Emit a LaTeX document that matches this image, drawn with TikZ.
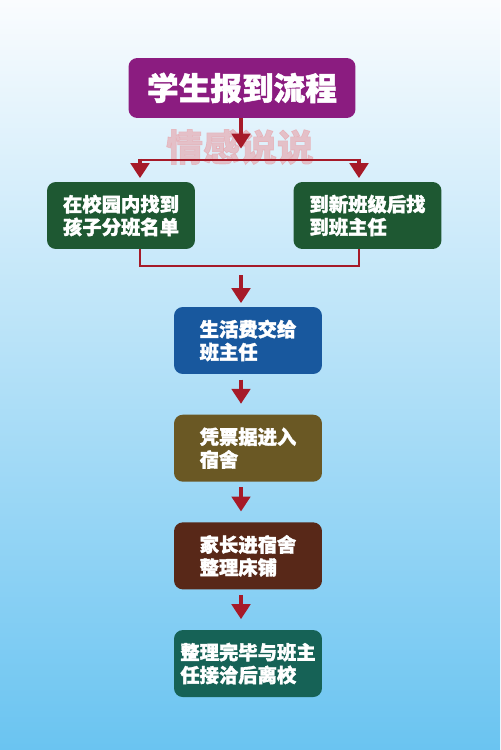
\documentclass[tikz,border=0pt]{standalone}
\usepackage{fontspec}
\newfontfamily\cjkfont{Noto Sans CJK SC}[BoldFeatures={FakeBold=1.6}]
\usetikzlibrary{arrows.meta,positioning}
\usepackage{xcolor}
\definecolor{bgtop}{RGB}{250,252,254}
\definecolor{bgmid}{RGB}{178,222,245}
\definecolor{bgbot}{RGB}{106,196,241}
\definecolor{titlepurple}{RGB}{139,28,128}
\definecolor{boxgreen}{RGB}{30,88,50}
\definecolor{boxblue}{RGB}{24,88,158}
\definecolor{boxolive}{RGB}{106,88,36}
\definecolor{boxbrown}{RGB}{88,40,24}
\definecolor{boxteal}{RGB}{22,98,86}
\definecolor{linered}{RGB}{166,26,40}
\definecolor{markpink}{RGB}{232,160,166}

\begin{document}
\begin{tikzpicture}[
    x=0.02cm, y=-0.02cm,
    node distance=0.8cm,
    stepbox/.style={rectangle, rounded corners=5pt, minimum width=2.96cm, minimum height=1.34cm, inner sep=0pt, align=left, text=white, font=\cjkfont\bfseries\fontsize{11}{13}\selectfont},
    titlebox/.style={stepbox, fill=titlepurple, minimum width=4.54cm, minimum height=1.2cm, font=\cjkfont\bfseries\fontsize{18}{20}\selectfont},
    link/.style={line width=1.4pt, linered},
    arrow/.style={line width=2pt, linered, -{Triangle[width=10.5pt,length=8.5pt]}}
]
    % Background
    \shade[top color=bgtop, middle color=bgmid, bottom color=bgbot] (0,0) rectangle (500,750);
    \useasboundingbox (0,0) rectangle (500,750);
    \node[font=\cjkfont\bfseries\fontsize{21}{21}\selectfont, text=markpink, opacity=0.6] (mark) at (240,147) {情感说说};

    % Nodes
    \node[titlebox] (title) at (242,88) {学生报到流程};
    \node[stepbox, fill=boxgreen] (left) at (121,215.5) {在校园内找到\\孩子分班名单};
    \node[stepbox, fill=boxgreen] (right) at (367.5,215.5) {到新班级后找\\到班主任};
    \node[stepbox, fill=boxblue] (pay) at (248,340.5) {生活费交给\\班主任};
    \node[stepbox, fill=boxolive, below=of pay] (dorm) {凭票据进入\\宿舍};
    \node[stepbox, fill=boxbrown, below=of dorm] (bed) {家长进宿舍\\整理床铺};
    \node[stepbox, fill=boxteal, below=of bed] (leave) {整理完毕与班主\\任接洽后离校};

    % Coordinates
    \coordinate (axis) at (241,0);
    \coordinate (splitL) at (140,160);
    \coordinate (splitR) at (359,160);
    \coordinate (joinL) at (140,266);
    \coordinate (joinR) at (359,266);
    \coordinate (joinM) at (241,275);

    % Arrows
    \draw[arrow, shorten >=6.5pt] (title.south -| axis) -- (axis |- splitL);
    \draw[link] (splitL) -- (splitR);
    \draw[arrow, shorten >=2pt] ([yshift=0.7pt]splitL) -- (splitL |- left.north);
    \draw[arrow, shorten >=2pt] ([yshift=0.7pt]splitR) -- (splitR |- right.north);
    \draw[link] (joinL |- left.south) -- (joinL) -- (joinR) -- (joinR |- right.south);
    \draw[arrow, shorten >=2pt] (joinM) -- (pay.north -| axis);
    \draw[arrow, shorten <=3pt, shorten >=6pt] (pay.south -| axis) -- (dorm.north -| axis);
    \draw[arrow, shorten <=3pt, shorten >=6pt] (dorm.south -| axis) -- (bed.north -| axis);
    \draw[arrow, shorten <=3pt, shorten >=6pt] (bed.south -| axis) -- (leave.north -| axis);
\end{tikzpicture}
\end{document}
